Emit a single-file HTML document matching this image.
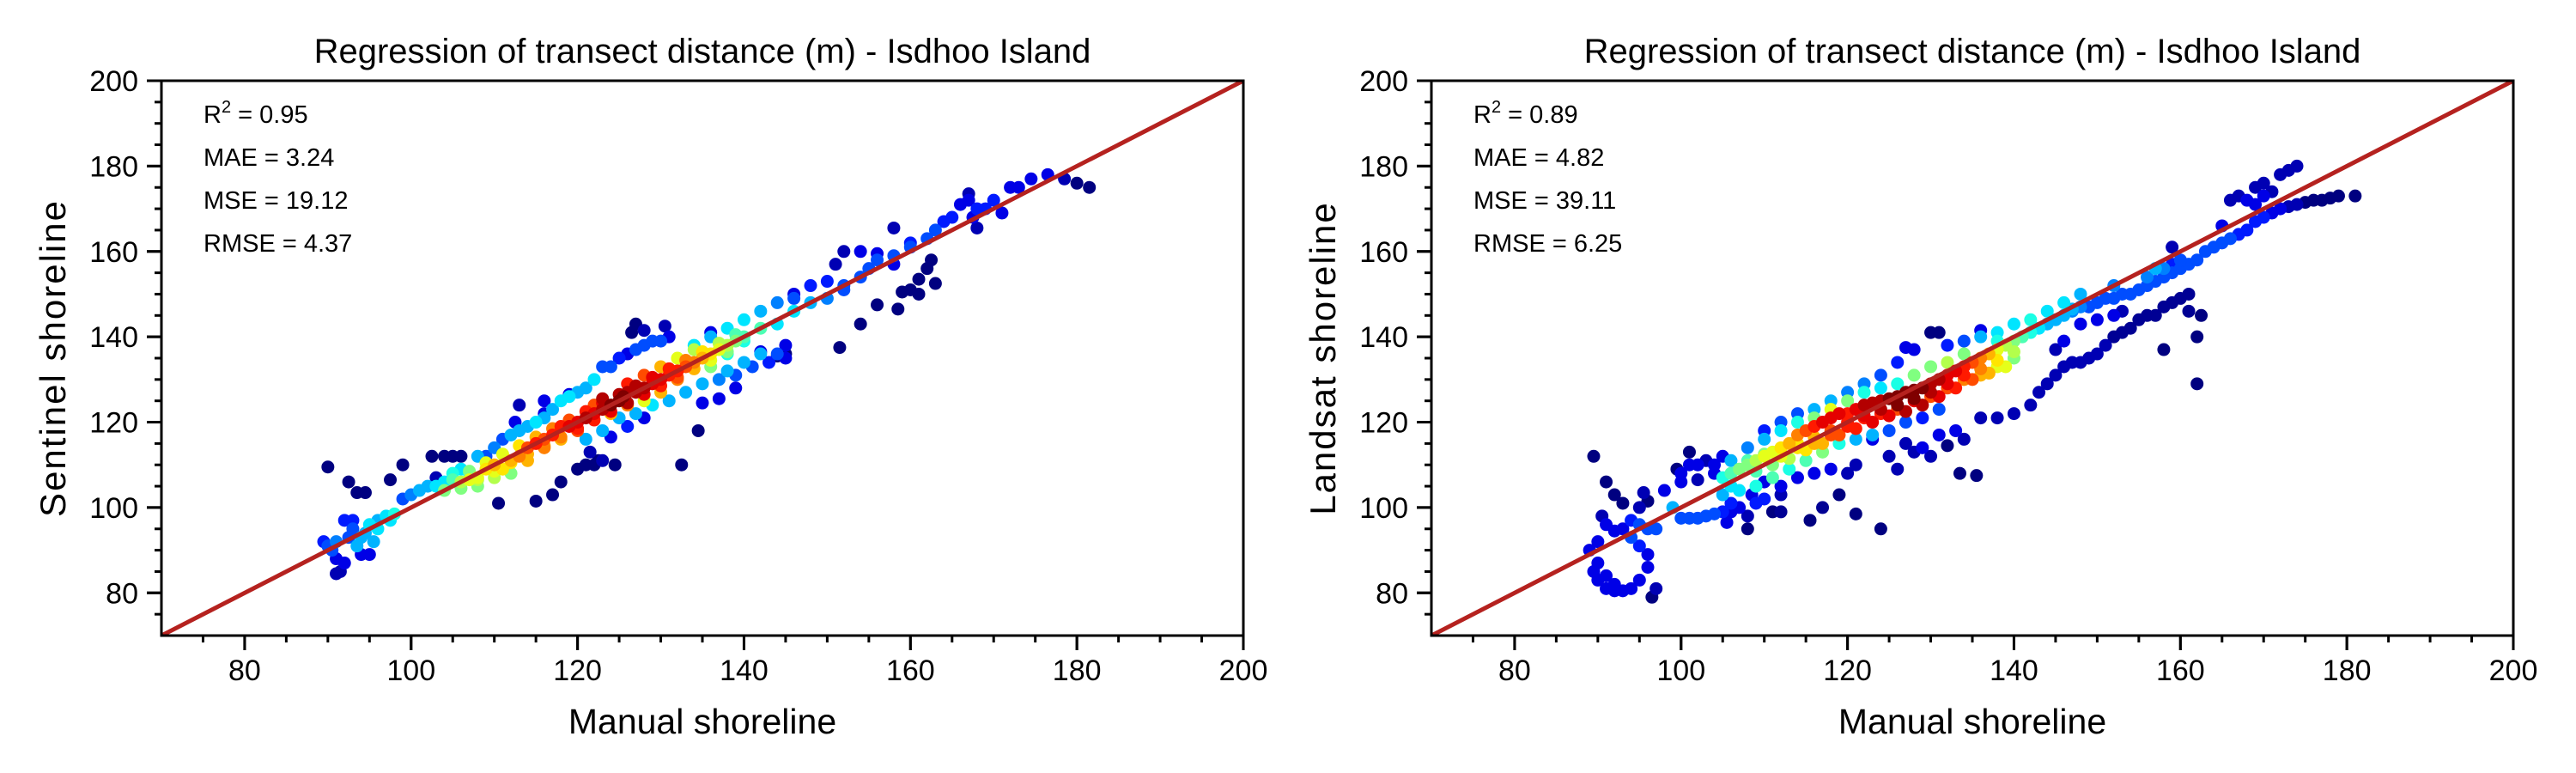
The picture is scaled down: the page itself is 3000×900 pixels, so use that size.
<!DOCTYPE html>
<html><head><meta charset="utf-8"><style>
html,body{margin:0;padding:0;background:#fff;}
svg{display:block;font-family:"Liberation Sans",Arial,sans-serif;}
</style></head><body>
<svg id="fig" width="3000" height="900" viewBox="0 0 3000 900" xmlns="http://www.w3.org/2000/svg"></svg>
<script>
const ticks=[80,100,120,140,160,180,200];
const tickLabels=["80","100","120","140","160","180","200"];
const sentX=[89.5,90,90.5,91,91,91.5,91,92,92.5,93,93.5,94,94.5,95,95.5,96,96,94,95,92,93,97,98,97.5,
90,92.5,93.5,94.5,97.5,99,102.5,104,105,106,103,110.5,115,117,118,120,121,122,122.5,124.5,132.5,134.5,121.5,123,
99,100,101,102,103,104,105,106,107,108,109,110,111,112,113,114,115,116,117,118,119,120,121,122,123,124,125,126,127,128,129,130,127,126.5,128,130.5,131,119,116,112.5,113,116,
104,106,107,108,109,110,111,112,113,114,115,116,117,118,119,120,121,122,123,124,125,125.5,126,127,128,129,130,131,132,133,134,135,136,137,138,139,140,122,124,126,128,130,130,132,134,128,120,118,114,110,112,108,116,126,123,132,136,138,
121,123,125,127,129,131,133,135,137,139,141,143,145,138,140,142,144,145,135,137,139,128,126,124,142,
134,136,138,140,142,144,146,148,150,152,154,155,156,158,160,162,163,146,148,150,152,140,144,136,146,151,152,154,156,158,142,
151.5,154,156,158.5,159,160,161,161,162,162.5,163,158,144,145,
164,165,166,167,167,168,169,170,171,172,173,174.5,176.5,178.5,180,181.5,168,160,167.5,
105,107,109,111,113,115,117,119,121,123,125,127,129,131,133,135,137,139,106,108,110,112,114,116,118,120,122,124,126,128,130,132,134,136,138];
const sentY=[92,91,90,92,88,85,84.5,87,93,95,91,93,94,96,92,95,97,89,89,97,97,98,98.5,97,
109.5,106,103.5,103.5,106.5,110,112,112,112,112,107,101,101.5,103,106,109,110,110,111,110,110,118,113,111,
102,103,104,105,105,106,108,109,108,112,112,114,116,117,118,119,120,121,123,125,126,127,128,130,133,133,135,136,137,138,139,139,143,141,141.5,142.5,140,126.5,122,120,124,125,
104,106,106.5,107,109,110,109,111,112,114,115,116,117,119,119,120,121,122,123,124,125,126,127,127,128,129,130,131,132,133,134,135,136,137,138,139,140,124,122,124,125,127,133,135,137,131,118,116,111,107,108,105,114,129,125.5,130,133,136,
116,118,121,122,124,125,127,129,130,131,133,134,135,132,134,136,136,138,124.5,125.5,128,121,119,116.5,136.5,
138,140,142,144,146,148,149,152,153,152,154,156,158,159,161,163,165,146,148,149,151,139,143,141,150,157,160,160,159.5,157,142,
137.5,143,147.5,146.5,150.5,151,150,153.5,156,158,152.5,165.5,135.5,136,
167,168,171,172,173.5,170,170,172,169,175,175,177,178,177,176,175,165.5,162,168,
106.5,108.5,110.5,112.5,114.5,116.5,118.5,120.5,122.5,124.5,126.5,128.5,130.5,132.5,134.5,136.5,138.5,140.5,104.5,106.5,108.5,110.5,112.5,114.5,116.5,118.5,120.5,122.5,124.5,126.5,128.5,130.5,132.5,134.5,136.5];
const sentD=[.15,.2,.2,.25,.1,.05,.05,.1,.2,.2,.3,.3,.3,.35,.3,.35,.3,.1,.1,.15,.15,.35,.4,.35,
0,0,0,0,0,0,0,0,0,0,.05,0,0,0,0,0,0,0,0,0,0,0,.05,.05,
.2,.25,.3,.3,.35,.35,.4,.35,.4,.3,.2,.25,.2,.3,.3,.3,.35,.3,.3,.35,.35,.3,.3,.35,.2,.2,.15,.1,.2,.2,.2,.2,0,0,.05,.05,.1,.1,.1,.1,.05,.1,
.5,.55,.6,.6,.65,.7,.65,.7,.75,.8,.85,.8,.85,.85,.9,.9,.95,.9,.95,1,1,1,.95,.95,.95,.9,.9,.85,.85,.8,.75,.7,.65,.6,.55,.5,.45,.8,.7,.75,.6,.7,.7,.6,.55,.8,.8,.7,.7,.55,.5,.5,.75,.85,.95,.75,.5,.4,
.3,.3,.3,.3,.35,.3,.3,.3,.25,.2,.2,.15,.1,.3,.3,.3,.2,.1,.1,.1,.1,.1,.15,.1,.1,
.35,.3,.35,.35,.3,.25,.2,.15,.15,.2,.2,.2,.2,.2,.2,.2,.2,.35,.3,.25,.2,.4,.35,.1,.1,.05,.05,.1,.1,.1,.45,
0,0,0,0,0,0,0,0,0,0,0,.05,0,0,
.15,.15,.1,.1,.05,.15,.15,.15,.1,.1,.1,.1,.1,.05,0,0,.05,.15,.1,
.45,.5,.6,.6,.65,.7,.75,.8,.85,.9,.95,.95,.9,.85,.75,.65,.55,.45,.5,.55,.6,.65,.7,.7,.75,.85,.85,.9,.95,.9,.85,.8,.7,.6,.5];
const landX=[89.5,91,92,93,90.5,91,92,93,94,95,96,97,94,95,96,96,95,94,93,92,91,90,89.5,90,91,92,96.5,97,89,90,95,96,98,99,95.5,
100,101,102,103,104,105,105.5,106,106,107,108,100,100,101,102,103,104,104,105,102,101,99.5,108,108.5,110,109,111,112,112,
105,106,107,108,109,110,111,112,113,114,115,116,117,118,119,120,121,122,123,124,125,126,127,128,129,130,131,132,133,134,135,136,137,138,139,140,141,142,143,
112,114,116,118,120,122,124,126,128,130,132,134,136,138,140,118,120,122,124,126,128,130,132,134,116,114,112,110,108,106,109,111,113,115,117,119,121,123,125,127,129,131,107,105,106,
110,112,114,116,118,120,121,115.5,117,119,121,124,126,125,123,128,129,130,132,134,131,133,127,133.5,135.5,136,138,140,142,143,144,145,146,147,148,149,150,151,152,153,154,155,156,157,158,159,160,161,161,162,158,162,162.5,145,146,
144,145,146,147,148,149,150,151,152,153,154,155,156,157,158,159,160,161,162,163,164,165,166,167,168,169,170,171,172,173,174,175,176,177,178,179,181,158,156,152,148,146,144,142,140,138,136,134,132,130,131,128,127,126,124,122,120,118,116,114,112,110,136,138,148,150,152,153,147,
165,166,167,168,169,170,171,172,173,174,169,170,159,157,160,159,
108,110,112,114,116,118,120,122,124,126,128,130,132,134,136,138,140,109,111,113,115,117,119,121,123,125,127,129,131,133,135,137,139];
const landY=[112,106,103,101,98,96,94.5,95,97,96,95,95,93,91,89,86,83,81,80.5,80.5,81,83,85,87,84,82,79,81,90,92,100,101.5,104,100,103.5,
97.5,97.5,97.5,98,98.5,99,96.5,99,101,100,98,106,108,110,110,111,108,110,112,106.5,113,109,95,103,102,101,99,103,99,
107,108,109,110,111,112,113,114,115,117,118,119,120,121,122,122,123,124,124.5,125,125.5,126,127,127.5,128,129,130,131,132,133,134,135,136,137,138,139,140,141,142,
112,114,115,117,119,121,122,123,125,126,128,130,131,133,135,123,125,127,128,129,131,133,134,136,121,120,118,116,114,111,105,107,109,111,113,115,116,117,118,120,121,123,104,103,105,
106,105,107,108,109,108,110,97,100,103,98.5,95,109,112,116,113,114,112,114.5,116,117,118,115,108,107.5,121,121,122,124,127,129,131,133,134,134,135,136,138,140,141,142,144,145,145,147,148,149,146,150,129,137,140,145,137,139,
143,144,145,146,147,147,148,149,149,150,150,151,152,153,154,155,156,157,158,160,161,162,163,164,165,167,168,169,170,170.5,171,171.5,172,172,172.5,173,173,156,154,152,150,148,146,144,143,141,140,139,138,141,141,137,137.5,134,131,129,127,125,123,122,120,118,141.5,139,143,144,145,146,146.5,
166,172,173,172,171,173,174,178,179,180,175,176,157,156,158,161,
111,112.5,113,115,116.5,118,120,121.5,123,124,125.5,127,129,131,132.5,134.5,136.5,108.5,110,111.5,113.5,115,117,118.5,120,121.5,122.5,124,126,128,130,131.5,133,135];
const landD=[0,0,0,0,.05,.1,.1,.1,.15,.2,.2,.2,.2,.15,.1,.1,.1,.1,.1,.1,.1,.1,.1,.1,.1,.1,0,.05,.1,.1,.05,0,.1,.3,.05,
.2,.2,.2,.2,.2,.15,.1,.1,.15,.1,.05,.1,.1,.1,.1,.05,.1,.1,.1,.05,0,0,0,.1,.15,.15,0,.05,.02,
.4,.45,.5,.5,.55,.6,.6,.65,.7,.75,.8,.85,.9,.9,.9,.85,.9,.95,.95,.95,1,1,1,1,1,.95,.95,.9,.9,.85,.8,.75,.7,.6,.55,.5,.45,.4,.35,
.6,.65,.7,.8,.85,.85,.85,.8,.9,.8,.8,.75,.7,.6,.5,.6,.5,.4,.35,.4,.5,.5,.55,.5,.5,.4,.35,.3,.25,.3,.4,.45,.4,.45,.5,.4,.3,.3,.2,.2,.15,.2,.35,.3,.35,
.1,.1,.1,.1,.1,.05,.05,0,.02,0,0,0,.05,.05,.1,.05,.1,.05,0,.05,.1,.1,.05,0,0,.05,.05,.05,.05,.05,.05,.05,.05,.05,.05,.05,.05,.05,.02,.02,.02,.02,.02,.02,.02,.02,.02,.02,.02,0,0,0,0,.05,.1,
.3,.3,.3,.25,.25,.2,.2,.2,.2,.2,.2,.2,.2,.2,.2,.2,.2,.2,.2,.2,.2,.2,.2,.15,.15,.15,.15,.1,.1,.05,.05,0,0,0,0,0,0,.25,.25,.25,.3,.35,.35,.4,.35,.35,.3,.2,.15,0,0,.1,.1,.15,.2,.25,.25,.3,.3,.2,.2,.15,.1,.4,.1,.1,.1,.05,.3,
.1,.05,.05,.1,.1,.1,.05,.05,.05,.05,.05,.05,.15,.3,.2,.05,
.45,.5,.6,.65,.7,.8,.85,.9,.95,1,1,.95,.9,.85,.75,.65,.55,.45,.5,.55,.65,.7,.8,.85,.9,.9,.95,.95,.9,.85,.8,.7,.6,.5];
const sentStats=["MAE = 3.24","MSE = 19.12","RMSE = 4.37"];
const landStats=["MAE = 4.82","MSE = 39.11","RMSE = 6.25"];

const NS="http://www.w3.org/2000/svg";
const svg=document.getElementById('fig');
function mk(tag,attrs,parent,text){const e=document.createElementNS(NS,tag);for(const k in attrs)e.setAttribute(k,attrs[k]);if(text!==undefined)e.textContent=text;(parent||svg).appendChild(e);return e;}
function jet(t){const c=v=>Math.round(255*Math.max(0,Math.min(1,v)));return `rgb(${c(1.5-Math.abs(4*t-3))},${c(1.5-Math.abs(4*t-2))},${c(1.5-Math.abs(4*t-1))})`;}

function panel(left,name,ylabel,xs,ys,ds,r2,stats){
  const L=left,R=left+1260,T=94,B=740,lo=70,hi=200;
  const sx=v=>L+(v-lo)/(hi-lo)*(R-L);
  const sy=v=>B-(v-lo)/(hi-lo)*(B-T);
  const g=mk('g',{});
  
  
  const cid='clip-'+name;
  const cp=mk('clipPath',{id:cid},g);mk('rect',{x:L,y:T,width:R-L,height:B-T},cp);
  const pts=mk('g',{'clip-path':`url(#${cid})`},g);
  
  
  const n=Math.min(xs.length,ys.length,ds.length);
  const idx=[];for(let i=0;i<n;i++)idx.push(i);
  idx.sort((a,b)=>ds[a]-ds[b]);
  for(const i of idx){
    const c=mk('circle',{cx:sx(xs[i]),cy:sy(ys[i]),r:7.5,fill:jet(ds[i])},pts);
    
    
  }
  const ln=mk('line',{x1:sx(lo),y1:sy(lo),x2:sx(hi),y2:sy(hi),stroke:'#b5221f','stroke-width':5,'clip-path':`url(#${cid})`},g);
  
  
  const fr=mk('rect',{x:L,y:T,width:R-L,height:B-T,fill:'none',stroke:'#000','stroke-width':3},g);
  
  
  for(let v=75;v<hi;v+=5){
    const major=ticks.indexOf(v)>=0;const len=major?17:8;
    mk('line',{x1:sx(v),y1:B,x2:sx(v),y2:B+len,stroke:'#000','stroke-width':3},g);
    mk('line',{x1:L,y1:sy(v),x2:L-len,y2:sy(v),stroke:'#000','stroke-width':3},g);
  }
  ticks.forEach((v,i)=>{
    mk('line',{x1:sx(v),y1:B,x2:sx(v),y2:B+17,stroke:'#000','stroke-width':3},g);
    mk('line',{x1:L,y1:sy(v),x2:L-17,y2:sy(v),stroke:'#000','stroke-width':3},g);
    const xt=mk('text',{x:sx(v),y:792,'text-anchor':'middle','font-size':34},g,tickLabels[i]);
    
    
    const yt=mk('text',{x:L-27,y:sy(v)+12,'text-anchor':'end','font-size':34},g,tickLabels[i]);
    
    
  });
  const tt=mk('text',{x:(L+R)/2,y:73,'text-anchor':'middle','font-size':40},g,'Regression of transect distance (m) - Isdhoo Island');
  
  
  const xl=mk('text',{x:(L+R)/2,y:854,'text-anchor':'middle','font-size':41},g,'Manual shoreline');
  
  
  const ycx=L-112;
  const yl=mk('text',{x:ycx,y:(T+B)/2,'text-anchor':'middle','font-size':42,'letter-spacing':2,transform:`rotate(-90 ${ycx} ${(T+B)/2})`},g,ylabel);
  
  
  const r=mk('text',{x:L+49,y:143,'font-size':29},g);
  
  
  r.appendChild(document.createTextNode('R'));
  mk('tspan',{dy:-12,'font-size':20},r,'2');
  mk('tspan',{dy:12},r,' = '+r2);
  stats.forEach((s,i)=>{
    const t=mk('text',{x:L+49,y:193+50*i,'font-size':29},g,s);
    
    
  });
}
panel(188,'sentinel','Sentinel shoreline',sentX,sentY,sentD,'0.95',sentStats);
panel(1667,'landsat','Landsat shoreline',landX,landY,landD,'0.89',landStats);
</script>
</body></html>
